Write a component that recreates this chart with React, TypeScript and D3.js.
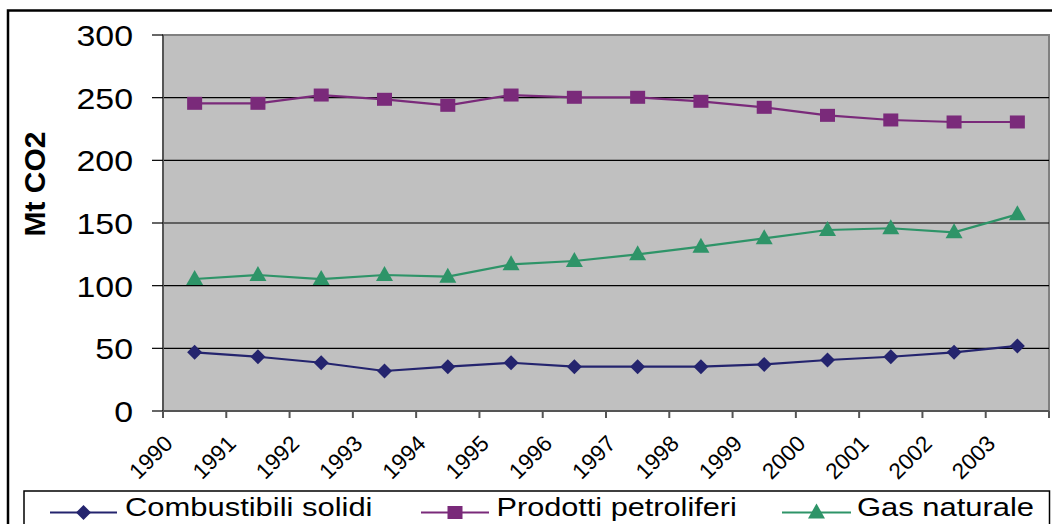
import React from "react";
import * as d3 from "d3";

const years = ["1990","1991","1992","1993","1994","1995","1996","1997","1998","1999","2000","2001","2002","2003"];
const solidi = [46.8,43.3,38.5,31.9,35.4,38.5,35.4,35.4,35.4,37.2,40.7,43.3,46.8,51.9];
const petroliferi = [245.5,245.5,252.1,248.7,243.9,252.1,250.3,250.3,247.1,242.3,235.9,232.2,230.6,230.6];
const gas = [105.3,108.5,105.3,108.5,107.2,117,119.7,125,131.1,137.8,144.4,145.8,142.6,156.9];
const yTicks = [0,50,100,150,200,250,300];
const seriesNames = ["Combustibili solidi","Prodotti petroliferi","Gas naturale"];
const yTitle = "Mt CO2";

const W = 1052, H = 524;
const FONT = "'Liberation Sans', Arial, sans-serif";
const colors = ["#24246E", "#7A2A7A", "#2E9468"];
const shapes = ["diamond", "square", "triangle"];

function Marker({ shape, cx, cy, color }: { shape: string; cx: number; cy: number; color: string }) {
  if (shape === "diamond") {
    const hw = 7.5, hh = 7.5;
    return <polygon points={`${cx},${cy - hh} ${cx + hw},${cy} ${cx},${cy + hh} ${cx - hw},${cy}`} fill={color} />;
  }
  if (shape === "square") {
    return <rect x={cx - 7.5} y={cy - 6.5} width={15} height={13} fill={color} />;
  }
  return <polygon points={`${cx},${cy - 9} ${cx + 8.5},${cy + 6} ${cx - 8.5},${cy + 6}`} fill={color} />;
}

export default function App() {
  const left = 163, right = 1049, top = 35, bottom = 411;
  const x = d3.scaleBand<string>().domain(years).range([left, right]);
  const y = d3.scaleLinear().domain([0, 300]).range([bottom, top]);
  const cx = (yr: string) => (x(yr) as number) + x.bandwidth() / 2;
  const data = [solidi, petroliferi, gas];
  const line = d3.line<number>().x((_, i) => cx(years[i])).y((v) => y(v));
  const boundaries = years.map((yr) => x(yr) as number).concat([right]);

  const legendItems = [
    { x1: 50, x2: 117, tx: 125, sx: 1.19 },
    { x1: 421, x2: 489, tx: 496.5, sx: 1.18 },
    { x1: 782, x2: 851, tx: 857, sx: 1.19 },
  ];

  return (
    <div style={{ position: "absolute", left: 0, top: 0 }}>
      <svg width={W} height={H} style={{ display: "block", background: "#fff" }}>
        <rect x={8} y={10.5} width={1070} height={600} fill="none" stroke="#000" strokeWidth={2.5} />
        <rect x={left} y={top} width={right - left} height={bottom - top} fill="#C0C0C0" stroke="#808080" strokeWidth={2} />
        {yTicks.filter((t) => t > 0 && t < 300).map((t) => (
          <line key={"g" + t} x1={left} x2={right} y1={y(t)} y2={y(t)} stroke="#000" strokeWidth={1.2} />
        ))}
        <line x1={left} x2={left} y1={top} y2={bottom} stroke="#555" strokeWidth={2} />
        <line x1={left} x2={right} y1={bottom} y2={bottom} stroke="#555" strokeWidth={2} />
        {yTicks.map((t) => (
          <g key={"yt" + t}>
            <line x1={152} x2={left} y1={y(t)} y2={y(t)} stroke="#000" strokeWidth={1.2} />
            <text transform={`translate(133,${y(t) + 11}) scale(1.13,1)`} textAnchor="end" fontFamily={FONT} fontSize={30} fill="#000">
              {t}
            </text>
          </g>
        ))}
        {boundaries.map((b, i) => (
          <line key={"xt" + i} x1={b} x2={b} y1={bottom} y2={bottom + 7} stroke="#555" strokeWidth={2} />
        ))}
        {years.map((yr) => (
          <text key={"xl" + yr} transform={`translate(${(x(yr) as number) + 11},445) rotate(-45)`} textAnchor="end" fontFamily={FONT} fontSize={22.5} fill="#000">
            {yr}
          </text>
        ))}
        <text transform="translate(45,184) rotate(-90)" textAnchor="middle" fontFamily={FONT} fontSize={30} fontWeight="bold" fill="#000">
          {yTitle}
        </text>
        {data.map((vals, si) => (
          <g key={"s" + si}>
            <path d={line(vals) as string} fill="none" stroke={colors[si]} strokeWidth={2.2} />
            {vals.map((v, i) => (
              <Marker key={i} shape={shapes[si]} cx={cx(years[i])} cy={y(v)} color={colors[si]} />
            ))}
          </g>
        ))}
        <rect x={24} y={491} width={1025.5} height={60} fill="#fff" stroke="#000" strokeWidth={1.5} />
        {legendItems.map((it, i) => (
          <g key={"l" + i}>
            <line x1={it.x1} x2={it.x2} y1={512.5} y2={512.5} stroke={colors[i]} strokeWidth={2.2} />
            <Marker shape={shapes[i]} cx={(it.x1 + it.x2) / 2} cy={512.5} color={colors[i]} />
            <text transform={`translate(${it.tx},516) scale(${it.sx},1)`} fontFamily={FONT} fontSize={26} fill="#000">
              {seriesNames[i]}
            </text>
          </g>
        ))}
      </svg>
    </div>
  );
}
